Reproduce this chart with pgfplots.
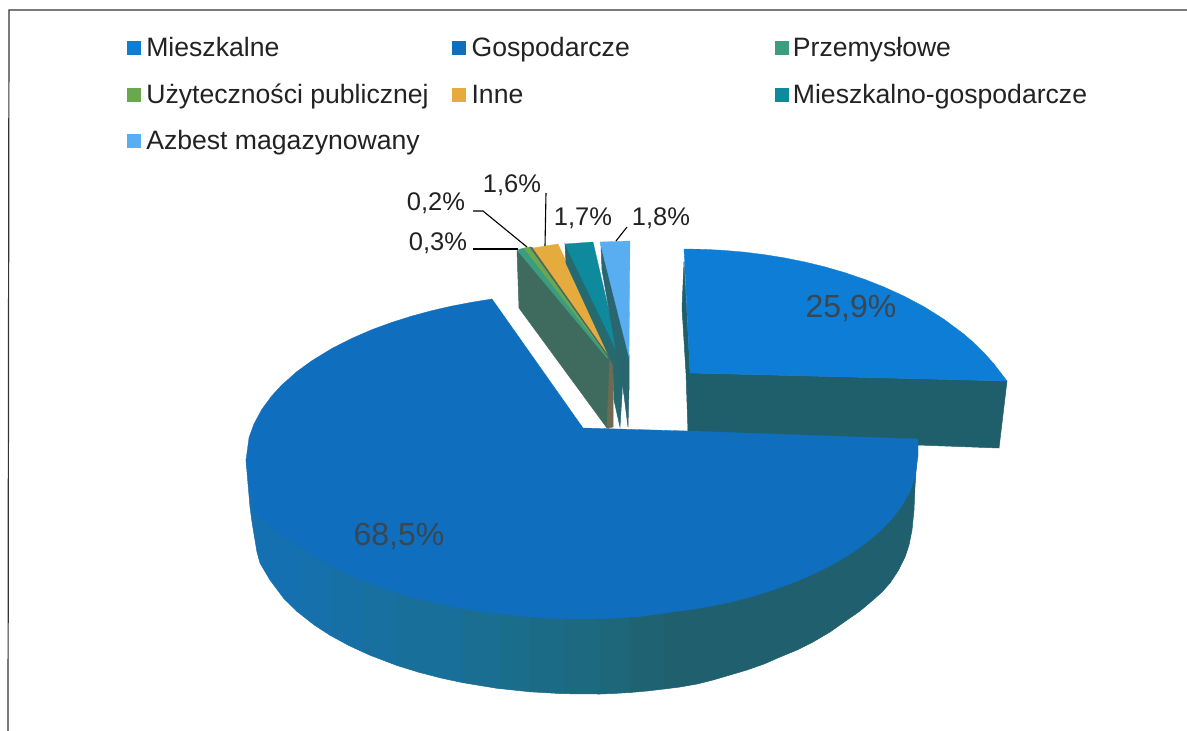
\documentclass[border=0pt]{standalone}
\usepackage{pgfplots}
\pgfplotsset{compat=1.18}
\usepackage{fontspec}
\setmainfont{Liberation Sans}
\definecolor{cA}{HTML}{0D7DD6}
\definecolor{cAw}{HTML}{1F5F6B}
\definecolor{cB}{HTML}{0F6EBE}
\definecolor{cC}{HTML}{3C9C80}
\definecolor{cD}{HTML}{6AA84F}
\definecolor{cE}{HTML}{E5AB3D}
\definecolor{cF}{HTML}{0E8A9C}
\definecolor{cG}{HTML}{58AEF0}
\definecolor{wA}{HTML}{1570B2}
\definecolor{wB}{HTML}{1570AC}
\definecolor{wC}{HTML}{1670A6}
\definecolor{wD}{HTML}{1770A0}
\definecolor{wE}{HTML}{186F99}
\definecolor{wF}{HTML}{1A6E92}
\definecolor{wG}{HTML}{1B6D8C}
\definecolor{wH}{HTML}{1C6B86}
\definecolor{wI}{HTML}{1D6980}
\definecolor{wJ}{HTML}{1E6679}
\definecolor{wK}{HTML}{1F6373}
\definecolor{wL}{HTML}{205F6E}
\definecolor{grW}{HTML}{3F6B5E}
\definecolor{brW}{HTML}{6E6B52}
\definecolor{orW}{HTML}{4C6660}
\definecolor{teW}{HTML}{26696F}
\definecolor{ltW}{HTML}{2A6670}
\definecolor{ink}{HTML}{222222}
\definecolor{dimink}{HTML}{3A4650}
\newcommand{\lab}[1]{\makebox[312pt][l]{\hspace{6pt}#1}}
\newcommand{\labb}[1]{\makebox[309pt][l]{\hspace{6pt}#1}}
\newcommand{\labc}[1]{\hspace{5pt}#1}
\pgfplotsset{
  wall/.style={fill=#1,draw=#1,line width=0.5pt,forget plot},
  face/.style={fill=#1,draw=#1,line width=0.3pt},
  leader/.style={draw=black,line width=1.1pt,forget plot},
}
\begin{document}
\begin{tikzpicture}
\useasboundingbox (0,0) rectangle (1187pt,731pt);
\begin{axis}[
  scale only axis,width=1187pt,height=731pt,
  xmin=0,xmax=1187,ymin=0,ymax=731,y dir=reverse,
  axis lines=none,clip=false,no markers,
  font=\fontsize{25.5}{30}\selectfont,
  legend columns=3,
  legend cell align=left,
  legend image code/.code={\path[#1] (0pt,-5pt) rectangle (13pt,8pt);},
  legend style={draw=none,fill=none,at={(0.107,0.950)},anchor=north west,
    inner sep=0pt,outer sep=0pt,font=\fontsize{26.6}{30}\selectfont,
    row sep=20.5pt,text=ink,
    nodes={inner sep=0pt,outer sep=0pt,text height=20pt,text depth=6pt}},
]
% frame
\addplot[draw=black!80,line width=1.2pt,forget plot] coordinates {(1187,10)(9,10)(8,731)};

% 25,9 % slice
\addplot[wall=cAw] coordinates {(690,373)(1007,381)(999,448)(918,445)(688,431)} --cycle;
\addplot[wall=cAw] coordinates {(684,262)(682,308)(686,373)(688,431)(692,431)(690,373)} --cycle;
\addplot[face=cA] coordinates {(684,249)(704,249.3)(724,250.4)(744,252.1)(764,254.6)(784,257.8)(804,261.8)(824,266.6)(844,272.4)(864,279.1)(884,287)(904,296.1)(924,306.7)(944,319.3)(964,334.2)(974,343)(984,352.8)(994,364)(1007,381)(690,373)} --cycle;
\addlegendentry{\lab{Mieszkalne}}

% 68,5 % slice: wall strips then top face
\addplot[wall=wA] coordinates {(246,460)(248,484)(250,507)(252,522)(255,540)(257,552)(260,563)(270,580)(284,598.7)(297,611.4)(297,500)} --cycle;
\addplot[wall=wB] coordinates {(297,611.4)(314,624.8)(330,635.2)(330,520)(297,520)} --cycle;
\addplot[wall=wC] coordinates {(330,635.2)(349,645.6)(363,652)(363,540)(330,540)} --cycle;
\addplot[wall=wD] coordinates {(363,652)(369,654.8)(397,665.5)(397,560)(363,560)} --cycle;
\addplot[wall=wE] coordinates {(397,665.5)(419,672.3)(441,678)(463,682.7)(463,580)(397,580)} --cycle;
\addplot[wall=wF] coordinates {(463,682.7)(497,688.3)(500,688.6)(500,590)(463,590)} --cycle;
\addplot[wall=wG] coordinates {(500,688.6)(530,691.8)(530,590)(500,590)} --cycle;
\addplot[wall=wH] coordinates {(530,691.8)(563,693.7)(565,693.7)(565,600)(530,600)} --cycle;
\addplot[wall=wI] coordinates {(565,693.7)(598,694)(600,694)(600,600)(565,600)} --cycle;
\addplot[wall=wJ] coordinates {(600,694)(613,693.5)(630,692.5)(630,590)(600,590)} --cycle;
\addplot[wall=wK] coordinates {(630,692.5)(647,691)(664,689)(664,590)(630,590)} --cycle;
\addplot[wall=wL] coordinates {(664,689)(680,687)(697,684)(713,680)(730,675)(747,670)(764,664)(780,657)(797,650)(813,642)(830,632)(847,620)(860,611)(873,600)(882,592)(890,583)(898,571)(905,557)(909,545)(912,530)(914,510)(915,487)(918,440)(700,480)(664,590)} --cycle;
\addplot[face=cB] coordinates {(583,428)(492,299)(472,302.2)(452,306)(432,310.6)(412,316)(392,322.3)(372,329.6)(352,338.3)(332,348.4)(312,360.6)(297,371.5)(282,384.8)(272,395.6)(262,409.1)(254,423.8)(249,437.7)(246,460)(250,490)(255,513)(264,521)(273,528)(285,537)(297,544.2)(312,554.6)(332,566.2)(352,575.9)(372,584.1)(392,591.1)(412,597.2)(432,602.3)(452,606.6)(472,610.2)(492,613.2)(522,616.4)(552,618.4)(582,619)(612,618.4)(642,616.4)(672,612)(692,609.5)(712,606)(732,601.9)(752,596.6)(772,590.4)(792,583.2)(812,574.8)(832,564.9)(852,553)(867,542.3)(882,529.4)(892,518.9)(902,505.7)(910,491.3)(915,477.7)(918,456)(918,439)(688,431)} --cycle;
\addlegendentry{\labb{Gospodarcze}}

% 0,3 % and 0,2 % slices
\addplot[wall=grW] coordinates {(517,250)(519,308)(607,428)(609,428)(610,358)} --cycle;
\addplot[wall=brW] coordinates {(607,428)(613,427)(613,363)(610,356)} --cycle;
\addplot[face=cC] coordinates {(517,250)(524,248)(609,358)(607,358)} --cycle;
\addlegendentry{\labc{Przemysłowe}}
\addplot[face=cD] coordinates {(524,248)(530,247)(609,358)} --cycle;
\addlegendentry{\lab{Użyteczności publicznej}}

% 1,6 % slice
\addplot[wall=orW] coordinates {(530,247)(533,248)(611,358)(609,358)} --cycle;
\addplot[face=cE] coordinates {(533,248)(558,244)(612,360)} --cycle;
\addlegendentry{\labb{Inne}}

% 1,7 % slice
\addplot[wall=teW] coordinates {(565,244)(566,263)(613,365)(614,400)(620,427)(622,395)(623,358)} --cycle;
\addplot[face=cF] coordinates {(565,244)(593,242)(620,358)} --cycle;
\addlegendentry{\labc{Mieszkalno-gospodarcze}}

% 1,8 % slice
\addplot[wall=ltW] coordinates {(601,246)(602,270)(624,395)(628,427)(629,390)(629,355)} --cycle;
\addplot[face=cG] coordinates {(600,242)(630,241)(629,357)} --cycle;
\addlegendentry{\lab{Azbest magazynowany}}

% leader lines
\addplot[leader] coordinates {(473,249)(518,249)};
\addplot[leader] coordinates {(473,211)(483,211)(527,247)};
\addplot[leader] coordinates {(546,193)(545,246)};
\addplot[leader] coordinates {(627,227)(616,241)};

% data labels
\node[text=ink] at (axis cs:436,203) {0,2\%};
\node[text=ink] at (axis cs:438,243) {0,3\%};
\node[text=ink] at (axis cs:512,185) {1,6\%};
\node[text=ink] at (axis cs:583,218) {1,7\%};
\node[text=ink] at (axis cs:661,218) {1,8\%};
\node[text=dimink,font=\fontsize{32}{36}\selectfont] at (axis cs:851,308) {25,9\%};
\node[text=dimink,font=\fontsize{32}{36}\selectfont] at (axis cs:399,536) {68,5\%};
\end{axis}
\end{tikzpicture}
\end{document}
